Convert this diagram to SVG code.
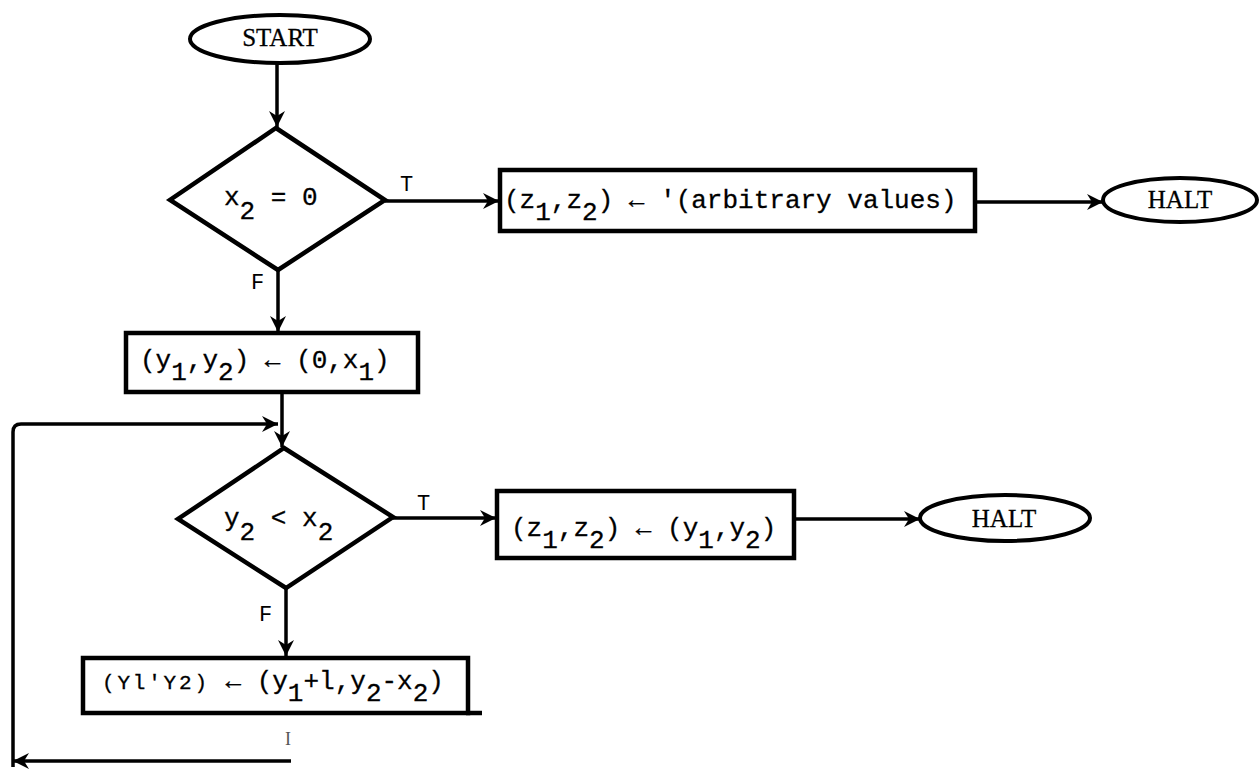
<svg xmlns="http://www.w3.org/2000/svg" width="1260" height="769" viewBox="0 0 1260 769">
<style>
.f{font-family:"Liberation Mono","DejaVu Sans Mono",monospace;font-size:26px;fill:#000;stroke:#000;stroke-width:0.3}
.sm{font-size:21px;letter-spacing:2.8px}
.s{font-family:"Liberation Serif","DejaVu Serif",serif;font-size:25px;fill:#000;stroke:#000;stroke-width:0.3}
.lbl{font-family:"Liberation Mono","DejaVu Sans Mono",monospace;font-size:22px;fill:#000}
.box{fill:#fff;stroke:#000;stroke-width:4.5}
.dia{fill:#fff;stroke:#000;stroke-width:4.5;stroke-linejoin:miter}
.term{fill:#fff;stroke:#000;stroke-width:4}
.conn{fill:none;stroke:#000;stroke-width:3.5}
.arr{marker-end:url(#arr)}
</style>
<defs>
<marker id="arr" markerUnits="userSpaceOnUse" markerWidth="18" markerHeight="18" viewBox="0 0 18 18" refX="17" refY="9" orient="auto">
<path d="M1,1 L17,9 L1,17 L6,9 Z" fill="#000"/>
</marker>
</defs>
<rect width="1260" height="769" fill="#fff"/>
<g id="connectors">
<path class="conn arr" d="M277,63 V127"/>
<path class="conn arr" d="M385,201 H499"/>
<path class="conn arr" d="M975,202 H1103"/>
<path class="conn arr" d="M278,270 V332"/>
<path class="conn arr" d="M282,392 V447"/>
<path class="conn arr" d="M393,518 H496"/>
<path class="conn arr" d="M794,519 H920"/>
<path class="conn arr" d="M286,588 V656"/>
<path class="conn arr" d="M13,767 V432 Q13,424 21,424 H278"/>
<path class="conn arr" d="M291,761 H13"/>
<text class="lbl" x="400" y="191">T</text>
<text class="lbl" x="251" y="289">F</text>
<text class="lbl" x="417" y="510">T</text>
<text class="lbl" x="259" y="621">F</text>
</g>
<g id="start">
<ellipse class="term" cx="280" cy="39" rx="90" ry="24"/>
<text class="s" x="280" y="46" text-anchor="middle">START</text>
</g>
<g id="dec1">
<polygon class="dia" points="276,128 385,200 278,270 170,200"/>
<text class="f" x="224" y="205">x<tspan dy="14">2</tspan><tspan dy="-14"> = 0</tspan></text>
</g>
<g id="box1">
<rect class="box" x="500" y="170" width="475" height="61"/>
<text class="f" x="504" y="208">(z<tspan dy="12">1</tspan><tspan dy="-12">,z</tspan><tspan dy="12">2</tspan><tspan dy="-12">) ← '(arbitrary values)</tspan></text>
</g>
<g id="halt1">
<ellipse class="term" cx="1180" cy="200" rx="77" ry="22"/>
<text class="s" x="1180" y="208" text-anchor="middle" font-size="24">HALT</text>
</g>
<g id="box2">
<rect class="box" x="126" y="333" width="292" height="59"/>
<text class="f" x="140" y="368">(y<tspan dy="12">1</tspan><tspan dy="-12">,y</tspan><tspan dy="12">2</tspan><tspan dy="-12">) ← (0,x</tspan><tspan dy="12">1</tspan><tspan dy="-12">)</tspan></text>
</g>
<g id="dec2">
<polygon class="dia" points="284,448 393,517 286,588 178,519"/>
<text class="f" x="224" y="526">y<tspan dy="14">2</tspan><tspan dy="-14"> &lt; x</tspan><tspan dy="14">2</tspan></text>
</g>
<g id="box4">
<rect class="box" x="497" y="491" width="297" height="67"/>
<text class="f" x="511" y="536">(z<tspan dy="12">1</tspan><tspan dy="-12">,z</tspan><tspan dy="12">2</tspan><tspan dy="-12">) ← (y</tspan><tspan dy="12">1</tspan><tspan dy="-12">,y</tspan><tspan dy="12">2</tspan><tspan dy="-12">)</tspan></text>
</g>
<g id="halt2">
<ellipse class="term" cx="1005" cy="518" rx="85" ry="23"/>
<text class="s" x="1004" y="527" text-anchor="middle" font-size="24">HALT</text>
</g>
<g id="box3">
<rect class="box" x="83" y="658" width="385" height="55"/>
<path d="M466,713 H482" stroke="#000" stroke-width="4.5"/>
<text class="f" x="102" y="689"><tspan class="sm">(Yl'Y2)</tspan> ← (y<tspan dy="12">1</tspan><tspan dy="-12">+l,y</tspan><tspan dy="12">2</tspan><tspan dy="-12">-x</tspan><tspan dy="12">2</tspan><tspan dy="-12">)</tspan></text>
<text x="288" y="745" font-family="Liberation Serif,serif" font-size="18" fill="#555" text-anchor="middle">I</text>
</g>
</svg>
